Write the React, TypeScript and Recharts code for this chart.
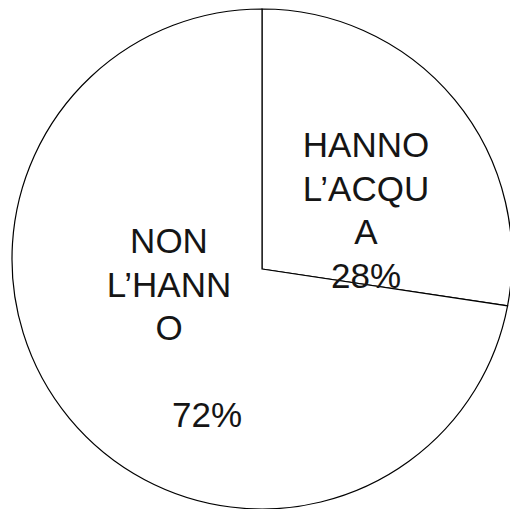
import { PieChart, Pie } from "recharts";

// slices, clockwise from 12 o'clock
const categories = ["HANNO L’ACQUA", "NON L’HANNO"];
const values = [28, 72];
// label text as it wraps in the original
const labelLines = [
  ["HANNO", "L’ACQU", "A"],
  ["NON", "L’HANN", "O", ""],
];

const data = categories.map((name, i) => ({ name, value: values[i] }));

// label placement relative to the pie centre
const labelLayout = [
  { dx: 104, dy: -102, pctDx: 0 },
  { dx: -93, dy: -6, pctDx: 38 },
];
const LINE_H = 43.5;
const RAD = Math.PI / 180;

const polar = (cx: number, cy: number, r: number, a: number) => ({
  x: cx + Math.cos(-a * RAD) * r,
  y: cy + Math.sin(-a * RAD) * r,
});

// sector with its apex sitting a little below the circle centre, like the source
const SliceShape = (props: any) => {
  const { cx, cy, outerRadius, startAngle, endAngle } = props;
  const apex = { x: cx, y: cy + 10 };
  const p0 = polar(cx, cy, outerRadius, startAngle);
  const p1 = polar(cx, cy, outerRadius, endAngle);
  const large = Math.abs(endAngle - startAngle) > 180 ? 1 : 0;
  const sweep = startAngle > endAngle ? 1 : 0;
  const d = `M${apex.x},${apex.y} L${p0.x},${p0.y} A${outerRadius},${outerRadius} 0 ${large} ${sweep} ${p1.x},${p1.y} Z`;
  return <path d={d} fill="#ffffff" stroke="#000000" strokeWidth={1.2} />;
};

const renderLabel = (props: any) => {
  const { cx, cy, index, value } = props;
  const lay = labelLayout[index];
  const lines = [...labelLines[index], `${value}%`];
  return (
    <text
      key={`lbl-${index}`}
      fontFamily="'Liberation Sans', Arial, sans-serif"
      fontSize={35}
      fill="#151515"
      textAnchor="middle"
    >
      {lines.map((t, i) => (
        <tspan
          key={i}
          x={cx + lay.dx + (i === lines.length - 1 ? lay.pctDx : 0)}
          y={cy + lay.dy + i * LINE_H}
        >
          {t}
        </tspan>
      ))}
    </text>
  );
};

export default function App() {
  return (
    <div
      style={{
        position: "fixed",
        left: 0,
        top: 0,
        width: 510,
        height: 509,
        overflow: "hidden",
        background: "#ffffff",
      }}
    >
      <PieChart
        width={510}
        height={509}
        margin={{ top: 0, right: 0, bottom: 0, left: 0 }}
      >
        <Pie
          data={data}
          dataKey="value"
          nameKey="name"
          cx={262}
          cy={259}
          innerRadius={0}
          outerRadius={250}
          startAngle={90}
          endAngle={-270}
          shape={SliceShape}
          label={renderLabel}
          labelLine={false}
          isAnimationActive={false}
        />
      </PieChart>
    </div>
  );
}
